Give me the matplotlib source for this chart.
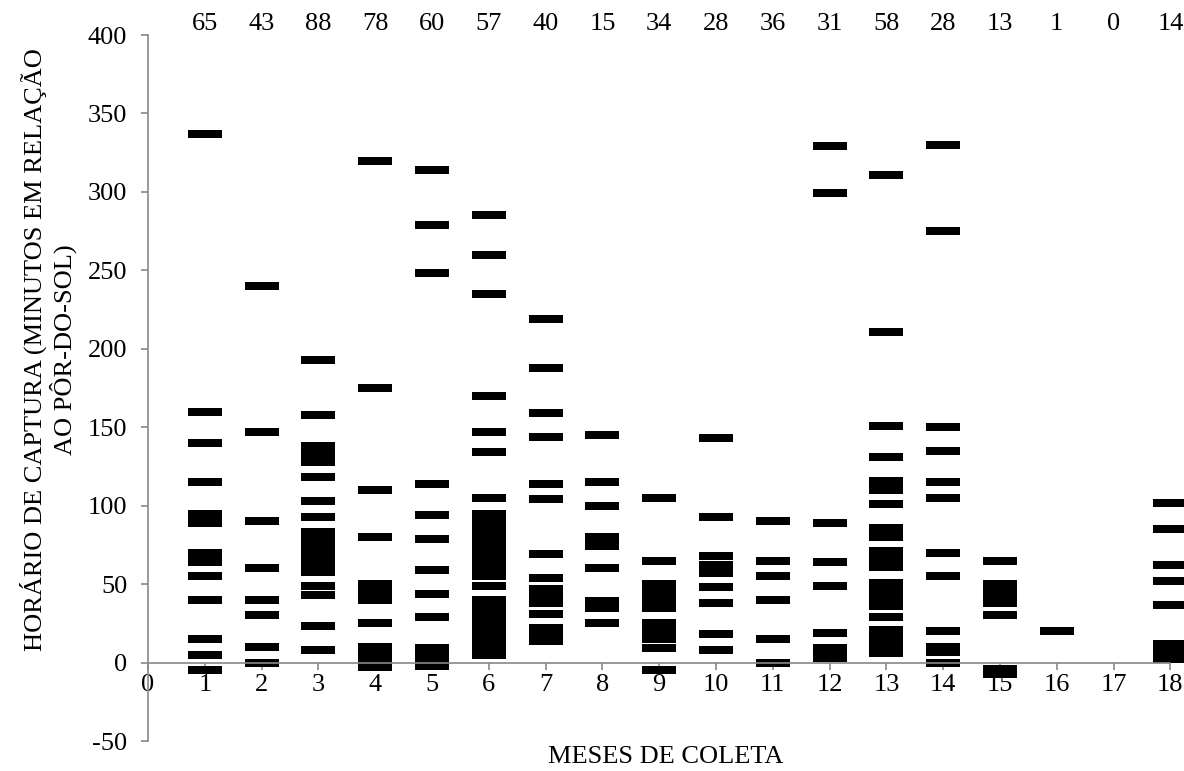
import matplotlib
matplotlib.use("Agg")
import matplotlib.pyplot as plt
import matplotlib.transforms as mtransforms

plt.rcParams["font.family"] = ["Liberation Serif", "DejaVu Serif"]
plt.rcParams["axes.unicode_minus"] = False

# capture times (minutes relative to sunset) for each sampling month
month_01 = [337, 160, 140, 115, 95, 92, 89, 70, 67, 64, 55, 40, 15, 5, -5]
month_02 = [240, 147, 90, 60, 40, 30, 10, 0]
month_03 = [193, 158, 138, 133, 128, 118, 103, 93, 83, 78, 73, 68, 65, 62,
            58, 49, 43, 23, 8]
month_04 = [320, 175, 110, 80, 50, 45, 40, 25, 10, 5, 0, -3]
month_05 = [314, 279, 248, 114, 94, 79, 59, 44, 29, 9, 5, 1, -2]
month_06 = [285, 260, 235, 170, 147, 134, 105, 95, 90, 85, 80, 75, 70, 65,
            60, 55, 49, 40, 35, 30, 25, 20, 15, 10, 5]
month_07 = [219, 188, 159, 144, 114, 104, 69, 54, 47, 43, 38, 31, 22, 18, 14]
month_08 = [145, 115, 100, 80, 77, 74, 60, 39, 35, 25]
month_09 = [105, 65, 50, 45, 40, 35, 25, 20, 15, 9, -5]
month_10 = [143, 93, 68, 62, 57, 48, 38, 18, 8]
month_11 = [90, 65, 55, 40, 15, 0]
month_12 = [329, 299, 89, 64, 49, 19, 9, 5, 3]
month_13 = [311, 211, 151, 131, 116, 113, 110, 101, 86, 83, 80, 71, 66, 61,
            51, 46, 41, 36, 29, 21, 16, 11, 6]
month_14 = [330, 275, 150, 135, 115, 105, 70, 55, 20, 10, 7, 0]
month_15 = [65, 50, 45, 42, 38, 30, -4, -7]
month_16 = [20]
month_17 = []
month_18 = [102, 85, 62, 52, 37, 12, 8, 5, 2]

months = list(range(1, 19))
n_captures = [65, 43, 88, 78, 60, 57, 40, 15, 34, 28, 36, 31, 58, 28, 13, 1, 0, 14]

series = [month_01, month_02, month_03, month_04, month_05, month_06,
          month_07, month_08, month_09, month_10, month_11, month_12,
          month_13, month_14, month_15, month_16, month_17, month_18]

# flat horizontal dash used as the point marker
dash = [(-1, -0.235), (1, -0.235), (1, 0.235), (-1, 0.235), (-1, -0.235)]

fig = plt.figure(figsize=(11.84, 7.71), dpi=100)
ax = fig.add_axes([0.125, 0.0389, 0.8635, 0.9157])

for m, values in zip(months, series):
    if not values:
        continue
    ax.plot([m] * len(values), values, linestyle="none", marker=dash,
            markersize=24.5, color="black", markeredgewidth=0,
            clip_on=False)

axis_grey = "#888888"
ax.set_xlim(0, 18)
ax.set_ylim(-50, 400)
ax.set_xticks(range(0, 19))
ax.set_yticks(range(-50, 401, 50))

for side in ("top", "right"):
    ax.spines[side].set_visible(False)
ax.spines["bottom"].set_position(("data", 0))
ax.spines["bottom"].set_color(axis_grey)
ax.spines["left"].set_color(axis_grey)
ax.spines["bottom"].set_linewidth(1.2)
ax.spines["left"].set_linewidth(1.2)

ax.tick_params(axis="both", direction="out", length=5, width=1.2,
               color=axis_grey, labelsize=19, labelcolor="black")
ax.tick_params(axis="y", pad=10)
ax.tick_params(axis="x", pad=3)

# number of captures per month above the plot
top = mtransforms.blended_transform_factory(ax.transData, ax.transAxes)
for m, n in zip(months, n_captures):
    ax.text(m, 1.015, str(n), transform=top, ha="center", va="center",
            fontsize=19)

fig.text(48 / 1184, 1 - 350 / 771,
         "HORÁRIO DE CAPTURA (MINUTOS EM RELAÇÃO\nAO PÔR-DO-SOL)",
         rotation=90, ha="center", va="center", multialignment="center",
         fontsize=19, linespacing=1.1)
fig.text(666 / 1184, 1 - 757 / 771, "MESES DE COLETA",
         ha="center", va="center", fontsize=19)

fig.savefig("out.png", dpi=100)
